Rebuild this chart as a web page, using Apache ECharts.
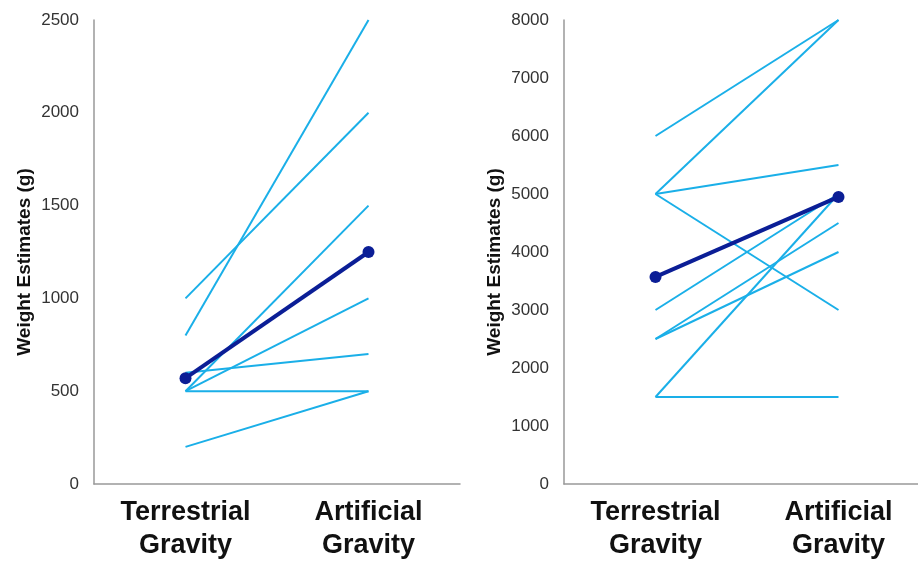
<!DOCTYPE html>
<html>
<head>
<meta charset="utf-8">
<script src="https://cdn.jsdelivr.net/npm/echarts@6/dist/echarts.min.js"></script>
<style>
  html, body { margin: 0; padding: 0; background: #fff; overflow: hidden; }
  #main { width: 930px; height: 562px; }
</style>
</head>
<body>
<div id="main"></div>
<script>
// conditions on the x axis
const categories = ['Terrestrial\nGravity', 'Artificial\nGravity'];

// left panel: one pair per participant
const terrestrialLeft = [800, 1000, 500, 500, 600, 500, 200];
const artificialLeft = [2500, 2000, 1500, 1000, 700, 500, 500];
const meanLeft = [570, 1250];
const ticksLeft = [0, 500, 1000, 1500, 2000, 2500];

// right panel
const terrestrialRight = [6000, 5000, 5000, 5000, 3000, 2500, 2500, 1500, 1500];
const artificialRight = [8000, 8000, 5500, 3000, 5000, 4500, 4000, 5000, 1500];
const meanRight = [3570, 4950];
const ticksRight = [0, 1000, 2000, 3000, 4000, 5000, 6000, 7000, 8000];

const lightBlue = '#1AAFE8';
const darkBlue = '#0B1E96';

// the right panel runs a bit past the picture's edge, so the canvas is wider than the window
let myChart = echarts.init(document.getElementById('main'));

function pairSeries(before, after, idx) {
  let out = [];
  for (let i = 0; i < before.length; i++) {
    out.push({
      type: 'line',
      xAxisIndex: idx,
      yAxisIndex: idx,
      data: [before[i], after[i]],
      symbol: 'none',
      lineStyle: { color: lightBlue, width: 2 },
      silent: true,
      z: 2
    });
  }
  return out;
}

function meanSeries(vals, idx) {
  return {
    type: 'line',
    xAxisIndex: idx,
    yAxisIndex: idx,
    data: vals,
    symbol: 'circle',
    symbolSize: 12,
    itemStyle: { color: darkBlue },
    lineStyle: { color: darkBlue, width: 4 },
    z: 5
  };
}

function xAxisFor(idx) {
  return {
    type: 'category',
    gridIndex: idx,
    data: categories,
    boundaryGap: true,
    axisLine: { lineStyle: { color: '#999', width: 1.5 } },
    axisTick: { show: false },
    axisLabel: {
      margin: 12,
      color: '#111',
      fontFamily: 'Liberation Sans',
      fontWeight: 'bold',
      fontSize: 27,
      lineHeight: 33
    }
  };
}

function yAxisFor(idx, ticks) {
  return {
    type: 'value',
    gridIndex: idx,
    min: ticks[0],
    max: ticks[ticks.length - 1],
    interval: ticks[1] - ticks[0],
    name: 'Weight Estimates (g)',
    nameLocation: 'middle',
    nameGap: 60,
    nameTextStyle: {
      color: '#111',
      fontFamily: 'Liberation Sans',
      fontWeight: 'bold',
      fontSize: 19,
      padding: [0, 20, 0, 0]
    },
    axisLine: { show: true, lineStyle: { color: '#999', width: 1.5 } },
    axisTick: { show: false },
    splitLine: { show: false },
    axisLabel: {
      margin: 15,
      color: '#333',
      fontFamily: 'Liberation Sans',
      fontSize: 17,
      formatter: function (v) { return String(v); }
    }
  };
}

let option = {
  animation: false,
  grid: [
    { left: 94, top: 20, width: 366, height: 464 },
    { left: 564, top: 20, width: 366, height: 464 }
  ],
  xAxis: [xAxisFor(0), xAxisFor(1)],
  yAxis: [yAxisFor(0, ticksLeft), yAxisFor(1, ticksRight)],
  series: [].concat(
    pairSeries(terrestrialLeft, artificialLeft, 0),
    [meanSeries(meanLeft, 0)],
    pairSeries(terrestrialRight, artificialRight, 1),
    [meanSeries(meanRight, 1)]
  )
};

myChart.setOption(option);
</script>
</body>
</html>
